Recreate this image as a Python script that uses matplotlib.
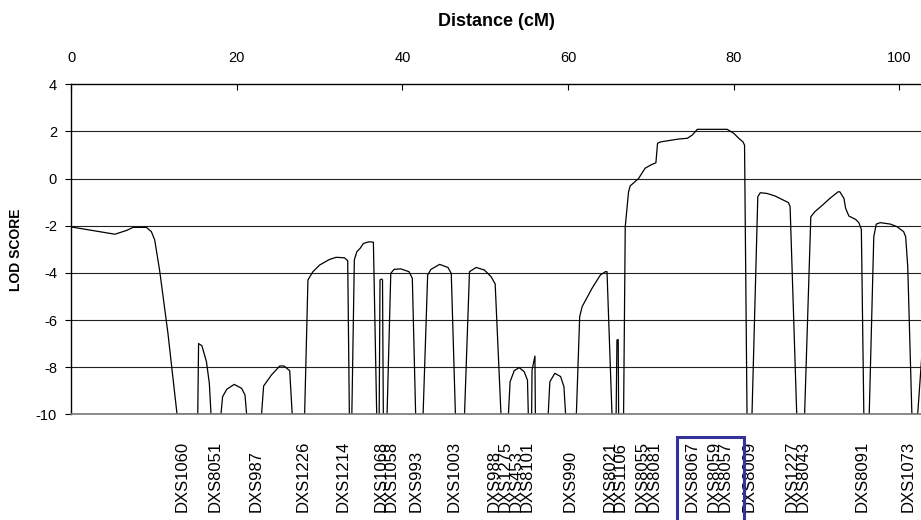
import matplotlib
matplotlib.use("Agg")
import matplotlib.pyplot as plt
from matplotlib.patches import Rectangle
import matplotlib.transforms as mtransforms

plt.rcParams['font.family'] = ['Liberation Sans', 'DejaVu Sans']
plt.rcParams['axes.unicode_minus'] = False

# LOD score curve (cM, LOD); values below -10 are drawn at the -10 floor
pos_cm = [0, 5.3, 6.7, 7.5, 9.1, 9.7, 10.1, 10.7, 11.7, 12.8,
          15.3, 15.4, 15.8, 16.35, 16.7, 16.9,
          18.1, 18.3, 18.8, 19.7, 20.6, 21.0, 21.2,
          23.0, 23.25, 24.2, 25.2, 25.7, 26.4, 26.7,
          28.2, 28.6, 29.2, 30.0, 31.2, 32.0, 33.0, 33.4, 33.6,
          33.9, 34.2, 34.5, 34.9, 35.3, 36.0, 36.5, 36.9,
          37.2, 37.3, 37.5, 37.6, 37.7,
          38.15, 38.6, 39.0, 39.8, 40.8, 41.2, 41.6,
          42.5, 43.05, 43.45, 44.5, 45.5, 45.9, 46.4,
          47.5, 48.1, 48.9, 49.9, 50.7, 51.2, 51.9,
          52.8, 53.0, 53.5, 54.1, 54.7, 55.1, 55.2,
          55.6, 55.65, 55.9, 56.0, 56.05,
          57.6, 57.8, 58.4, 59.1, 59.5, 59.7,
          61.0, 61.4, 61.7, 62.9, 63.9, 64.5, 64.7, 65.3,
          65.8, 65.9, 66.05, 66.1,
          66.7, 66.9, 67.3, 67.5, 68.5, 69.3, 70.0, 70.6, 70.8, 71.2,
          73.4, 74.4, 75.0, 75.6, 79.2, 80.0, 80.6, 81.1, 81.3, 81.6,
          82.2, 82.9, 83.2, 84.0, 85.0, 85.8, 86.6, 86.8, 87.6,
          88.55, 89.3, 89.8, 90.6, 91.6, 92.6, 92.8, 93.3, 93.5, 93.9,
          94.7, 95.1, 95.4, 95.7,
          96.35, 96.9, 97.2, 97.7, 98.9, 99.7, 100.5, 100.75, 101.0, 101.5,
          102.2, 102.8]
lod = [-2.05, -2.36, -2.2, -2.07, -2.07, -2.25, -2.6, -3.9, -6.56, -10,
       -10, -7.0, -7.09, -7.77, -8.69, -10,
       -10, -9.25, -8.94, -8.73, -8.9, -9.18, -10,
       -10, -8.8, -8.33, -7.95, -7.95, -8.15, -10,
       -10, -4.3, -3.95, -3.67, -3.43, -3.34, -3.36, -3.48, -10,
       -10, -3.45, -3.1, -2.96, -2.75, -2.68, -2.7, -10,
       -10, -4.3, -4.26, -4.3, -10,
       -10, -4.02, -3.85, -3.83, -3.95, -4.23, -10,
       -10, -4.09, -3.85, -3.64, -3.77, -4.02, -10,
       -10, -3.95, -3.77, -3.88, -4.16, -4.47, -10,
       -10, -8.62, -8.15, -8.02, -8.19, -8.55, -10,
       -10, -8.12, -7.7, -7.53, -10,
       -10, -8.62, -8.26, -8.4, -8.83, -10,
       -10, -5.86, -5.43, -4.65, -4.09, -3.95, -3.95, -10,
       -10, -6.85, -6.83, -10,
       -10, -2.04, -0.56, -0.31, 0.0, 0.44, 0.58, 0.67, 1.5, 1.56,
       1.68, 1.71, 1.85, 2.09, 2.09, 1.92, 1.71, 1.56, 1.42, -10,
       -10, -0.77, -0.6, -0.63, -0.74, -0.88, -1.02, -1.19, -10,
       -10, -1.62, -1.4, -1.16, -0.84, -0.56, -0.56, -0.84, -1.26, -1.59,
       -1.73, -1.87, -2.15, -10,
       -10, -2.47, -1.93, -1.87, -1.93, -2.04, -2.25, -2.47, -3.74, -10,
       -10, -7.0]

# marker names and their label positions (cM)
markers = ["DXS1060", "DXS8051", "DXS987", "DXS1226", "DXS1214", "DXS1068",
           "DXS1058", "DXS993", "DXS1003", "DXS988", "DXS1275", "DXS453",
           "DXS8101", "DXS990", "DXS8021", "DXS1106", "DXS8055", "DXS8081",
           "DXS8067", "DXS8059", "DXS8057", "DXS8009", "DXS1227", "DXS8043",
           "DXS8091", "DXS1073"]
marker_pos = [13.4, 17.4, 22.4, 28.0, 32.9, 37.4, 38.6, 41.6, 46.3, 51.1,
              52.4, 53.7, 55.1, 60.3, 65.1, 66.3, 68.9, 70.4, 75.0, 77.6,
              79.0, 81.8, 87.0, 88.4, 95.5, 101.1]
highlight = ["DXS8067", "DXS8059", "DXS8057"]

x_ticks = [0, 20, 40, 60, 80, 100]
y_ticks = [-10, -8, -6, -4, -2, 0, 2, 4]
grid_levels = [-8, -6, -4, -2, 0, 2]

W, H = 921, 520
fig = plt.figure(figsize=(W / 100, H / 100), dpi=100)
ax = fig.add_axes([71 / W, 105.7 / H, 1 - 71 / W, (435.7 - 105.7) / H])

for g in grid_levels:
    ax.axhline(g, color='#222222', lw=0.8, zorder=1)

ax.plot(pos_cm, lod, color='black', lw=0.9, zorder=2)

ax.set_xlim(0, 102.6)
ax.set_ylim(-10, 4)
ax.xaxis.tick_top()
ax.xaxis.set_label_position('top')
ax.set_xticks(x_ticks)
ax.set_yticks(y_ticks)
ax.tick_params(axis='x', direction='in', length=4, width=0.8, labelsize=10.5, pad=14)
ax.tick_params(axis='y', direction='out', length=4, width=0.8, labelsize=10.5, pad=6)
ax.spines['right'].set_visible(False)
ax.spines['bottom'].set_color('#777777')
ax.spines['bottom'].set_linewidth(1.2)
for s in ['top', 'left']:
    ax.spines[s].set_linewidth(1.0)

ax.set_xlabel('Distance (cM)', fontsize=13, fontweight='bold', labelpad=18)
ax.set_ylabel('LOD SCORE', fontsize=10, fontweight='bold', labelpad=9)

trans = mtransforms.blended_transform_factory(ax.transData, fig.transFigure)
for name, p in zip(markers, marker_pos):
    ax.text(p, 8 / H, name, transform=trans, rotation=90, ha='center',
            va='bottom', fontsize=12, clip_on=False)

# box around the highlighted markers
hx = [marker_pos[markers.index(m)] for m in highlight]
x0 = ax.transData.transform((min(hx), 0))[0] - 15
x1 = ax.transData.transform((max(hx), 0))[0] + 19
rect = Rectangle((x0 / W, -0.02), (x1 - x0) / W, (H - 436.7) / H + 0.02,
                 transform=fig.transFigure, fill=False, edgecolor='#333399',
                 lw=2.2, clip_on=False)
fig.patches.append(rect)

fig.savefig('out.png', dpi=100)
